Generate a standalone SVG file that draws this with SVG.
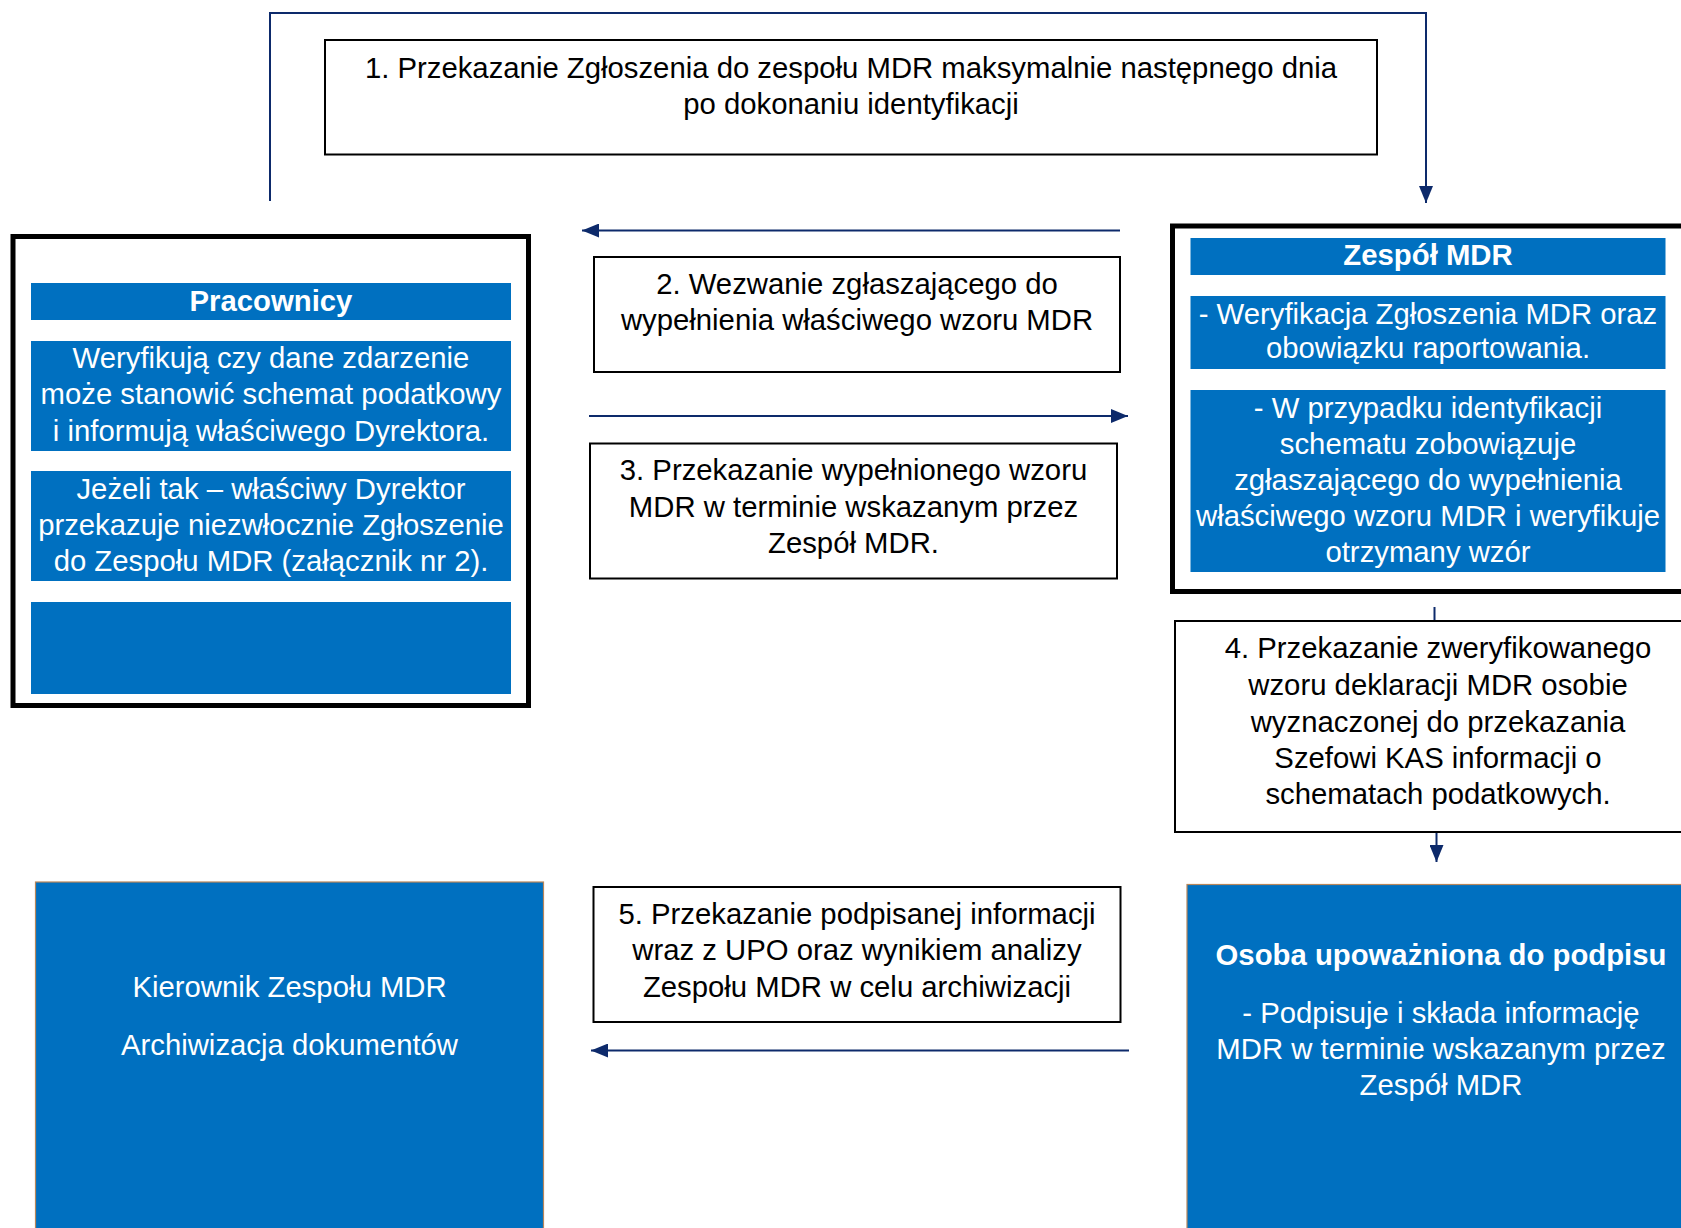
<svg xmlns="http://www.w3.org/2000/svg" width="1681" height="1228" viewBox="0 0 1681 1228">
<style>
text{font-family:"Liberation Sans",Arial,sans-serif;font-size:29.3px;text-anchor:middle}
.w{fill:#ffffff}
.b{font-weight:bold}
.k{fill:#000000}
.box{fill:#ffffff;stroke:#000000;stroke-width:2}
.frame{fill:#ffffff;stroke:#000000;stroke-width:5}
.bar{fill:#0070C0}
.big{fill:#0070C0;stroke:#B8865A;stroke-width:1.2}
.con{fill:none;stroke:#0D2A6B;stroke-width:2}
</style>
<defs>
<marker id="ah" markerUnits="userSpaceOnUse" markerWidth="17" markerHeight="14" refX="17" refY="7" orient="auto">
<path d="M0,0 L17,7 L0,14 z" fill="#0D2A6B"/>
</marker>
</defs>
<rect width="1681" height="1228" fill="#ffffff"/>

<g id="connectors">
<path class="con" d="M270,201 V13 H1426 V203" marker-end="url(#ah)"/>
<path class="con" d="M1120,230.5 H582" marker-end="url(#ah)"/>
<path class="con" d="M589,416 H1128" marker-end="url(#ah)"/>
<path class="con" d="M1434.5,607 V621"/>
<path class="con" d="M1436.5,832 V862" marker-end="url(#ah)"/>
<path class="con" d="M1129,1050.5 H591" marker-end="url(#ah)"/>
</g>

<g id="step1">
<rect class="box" x="325" y="40" width="1052" height="114.5"/>
<text class="k" x="851" y="77.5">1. Przekazanie Zgłoszenia do zespołu MDR maksymalnie następnego dnia</text>
<text class="k" x="851" y="114">po dokonaniu identyfikacji</text>
</g>

<g id="pracownicy">
<rect class="frame" x="13" y="236.5" width="515.5" height="469"/>
<rect class="bar" x="31" y="283" width="480" height="37"/>
<text class="w b" x="271" y="311">Pracownicy</text>
<rect class="bar" x="31" y="341" width="480" height="110"/>
<text class="w" x="271" y="368">Weryfikują czy dane zdarzenie</text>
<text class="w" x="271" y="404">może stanowić schemat podatkowy</text>
<text class="w" x="271" y="440.5">i informują właściwego Dyrektora.</text>
<rect class="bar" x="31" y="471" width="480" height="110"/>
<text class="w" x="271" y="499">Jeżeli tak – właściwy Dyrektor</text>
<text class="w" x="271" y="535">przekazuje niezwłocznie Zgłoszenie</text>
<text class="w" x="271" y="571">do Zespołu MDR (załącznik nr 2).</text>
<rect class="bar" x="31" y="602" width="480" height="92"/>
</g>

<g id="step2">
<rect class="box" x="594" y="257" width="526" height="115"/>
<text class="k" x="857" y="294">2. Wezwanie zgłaszającego do</text>
<text class="k" x="857" y="330">wypełnienia właściwego wzoru MDR</text>
</g>

<g id="step3">
<rect class="box" x="590" y="443.5" width="527" height="135"/>
<text class="k" x="853.5" y="480">3. Przekazanie wypełnionego wzoru</text>
<text class="k" x="853.5" y="516.5">MDR w terminie wskazanym przez</text>
<text class="k" x="853.5" y="553">Zespół MDR.</text>
</g>

<g id="zespol">
<rect class="frame" x="1172.5" y="226" width="530" height="365.5"/>
<rect class="bar" x="1190.5" y="238" width="475" height="37"/>
<text class="w b" x="1428" y="265">Zespół MDR</text>
<rect class="bar" x="1190.5" y="296" width="475" height="73"/>
<text class="w" x="1428" y="323.5">- Weryfikacja Zgłoszenia MDR oraz</text>
<text class="w" x="1428" y="358">obowiązku raportowania.</text>
<rect class="bar" x="1190.5" y="390" width="475" height="182"/>
<text class="w" x="1428" y="418">- W przypadku identyfikacji</text>
<text class="w" x="1428" y="454">schematu zobowiązuje</text>
<text class="w" x="1428" y="490">zgłaszającego do wypełnienia</text>
<text class="w" x="1428" y="526">właściwego wzoru MDR i weryfikuje</text>
<text class="w" x="1428" y="562">otrzymany wzór</text>
</g>

<g id="step4">
<rect class="box" x="1175" y="621" width="530" height="211"/>
<text class="k" x="1438" y="658">4. Przekazanie zweryfikowanego</text>
<text class="k" x="1438" y="695">wzoru deklaracji MDR osobie</text>
<text class="k" x="1438" y="731.5">wyznaczonej do przekazania</text>
<text class="k" x="1438" y="768">Szefowi KAS informacji o</text>
<text class="k" x="1438" y="804">schematach podatkowych.</text>
</g>

<g id="kierownik">
<rect class="big" x="35.5" y="882" width="508" height="360"/>
<text class="w" x="289.5" y="997">Kierownik Zespołu MDR</text>
<text class="w" x="289.5" y="1055">Archiwizacja dokumentów</text>
</g>

<g id="step5">
<rect class="box" x="593.5" y="887" width="527" height="135"/>
<text class="k" x="857" y="923.5">5. Przekazanie podpisanej informacji</text>
<text class="k" x="857" y="960">wraz z UPO oraz wynikiem analizy</text>
<text class="k" x="857" y="996.5">Zespołu MDR w celu archiwizacji</text>
</g>

<g id="osoba">
<rect class="big" x="1187" y="884.5" width="520" height="360"/>
<text class="w b" x="1441" y="965">Osoba upoważniona do podpisu</text>
<text class="w" x="1441" y="1023">- Podpisuje i składa informację</text>
<text class="w" x="1441" y="1059">MDR w terminie wskazanym przez</text>
<text class="w" x="1441" y="1095">Zespół MDR</text>
</g>
</svg>
